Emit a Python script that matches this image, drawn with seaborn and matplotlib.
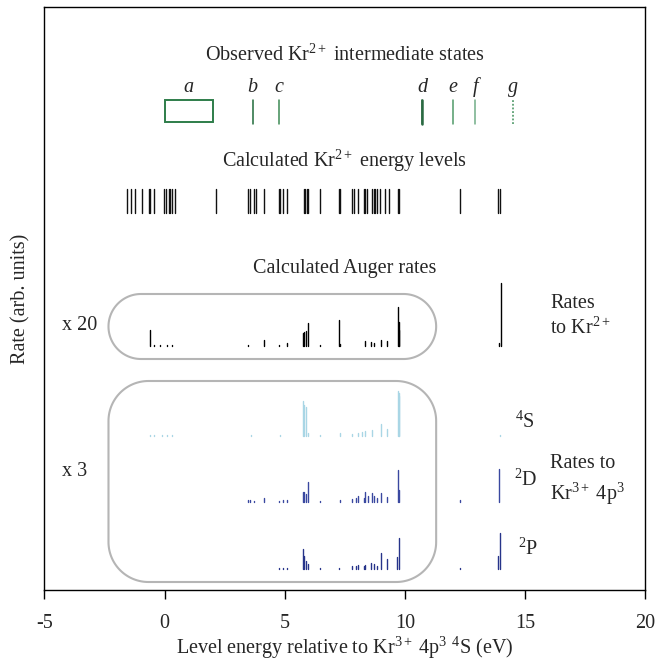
import numpy as np
import pandas as pd
import matplotlib
matplotlib.use("Agg")
import matplotlib.pyplot as plt
from matplotlib.patches import Polygon, Rectangle
import seaborn as sns

# ---------------- data ----------------
# observed Kr2+ intermediate states (eV)
obs_labels = ["b", "c", "d", "e", "f", "g"]
obs_energy = [3.67, 4.76, 10.72, 12.0, 12.93, 14.48]
obs_box_a = [0.0, 2.0]   # state a spans this energy range

# calculated Kr2+ energy levels (eV)
levels = [-1.56, -1.38, -1.21, -0.94, -0.66, -0.59, -0.45, -0.04, 0.06, 0.17,
          0.24, 0.31, 0.45, 2.15, 3.47, 3.57, 3.71, 3.82, 4.12, 4.75, 4.82,
          4.93, 5.10, 5.79, 5.86, 5.93, 5.99, 6.48, 7.24, 7.28, 7.80, 7.87,
          8.05, 8.28, 8.35, 8.42, 8.63, 8.70, 8.77, 8.84, 8.98, 9.18, 9.32,
          9.71, 9.74, 12.28, 13.87, 13.94]

# Auger rates to Kr2+ (x20, arb. units)
kr2_E = [-0.62, -0.45, -0.2, 0.1, 0.3, 3.47, 4.12, 4.75, 5.10, 5.75, 5.82,
         5.88, 5.95, 6.48, 7.24, 7.30, 8.35, 8.59, 8.70, 9.02, 9.25, 9.70,
         9.74, 9.77, 13.90, 13.98]
kr2_R = [16, 1, 1, 1, 1, 1, 6, 1, 3, 13, 14, 15, 23, 1, 26, 2, 5, 4, 3, 6, 5,
         39, 24, 16, 3, 63]

# Auger rates to Kr3+ 4p3 4S (x3)
s4_E = [-0.62, -0.45, -0.1, 0.1, 0.3, 3.6, 4.8, 5.75, 5.82, 5.88, 5.95, 6.48,
        7.28, 7.80, 8.05, 8.20, 8.35, 8.63, 9.02, 9.25, 9.70, 9.74, 9.77, 13.95]
s4_R = [1, 1, 1, 1, 1, 1, 1, 35, 31, 29, 3, 1, 3, 2, 3, 4, 5, 6, 12, 7, 45,
        43, 40, 1]

# Auger rates to Kr3+ 4p3 2D (x3)
d2_E = [3.47, 3.57, 3.71, 4.12, 4.75, 4.93, 5.10, 5.75, 5.82, 5.88, 5.95,
        6.48, 7.28, 7.80, 7.95, 8.05, 8.28, 8.35, 8.45, 8.63, 8.70, 8.84,
        9.02, 9.25, 9.70, 9.74, 12.28, 13.90]
d2_R = [2, 2, 1, 4, 1, 2, 2, 10, 10, 8, 20, 1, 2, 3, 4, 6, 4, 10, 6, 9, 6, 4,
        9, 5, 32, 12, 2, 33]

# Auger rates to Kr3+ 4p3 2P (x3)
p2_E = [4.75, 4.93, 5.10, 5.75, 5.82, 5.88, 5.95, 6.48, 7.24, 7.80, 7.95,
        8.05, 8.28, 8.35, 8.59, 8.70, 8.84, 9.02, 9.25, 9.69, 9.74, 12.28,
        13.87, 13.94]
p2_R = [1, 1, 1, 20, 13, 8, 5, 1, 1, 3, 3, 4, 3, 4, 6, 5, 3, 16, 10, 12, 31,
        1, 13, 36]

x_ticks = [-5, 0, 5, 10, 15, 20]

# ---------------- layout (vertical placement, arb. units) ----------------
Y_MAX = 583
BASE = {"kr2": 244, "4S": 154, "2D": 88, "2P": 21}
COLORS = {"kr2": "#000000", "4S": "#a9d6e5", "2D": "#3a48a0", "2P": "#27348a"}

sns.set_theme(style="white")
plt.rcParams["font.family"] = ["Liberation Serif", "DejaVu Serif"]
plt.rcParams["mathtext.fontset"] = "custom"
plt.rcParams["mathtext.rm"] = "Liberation Serif"
plt.rcParams["mathtext.it"] = "Liberation Serif:italic"
FS = 14.5

fig = plt.figure(figsize=(6.63, 6.64), dpi=100)
ax = fig.add_axes([44.3 / 663, 1 - 590 / 664, (645.3 - 44.3) / 663, (590 - 7) / 664])
PX_PER_EV = 601 / 25


def stems(energies, heights, base, name):
    rows = []
    for i, (e, h) in enumerate(zip(energies, heights)):
        rows.append({"E": e, "y": base, "uid": f"{name}{i}", "series": name})
        rows.append({"E": e, "y": base + h, "uid": f"{name}{i}", "series": name})
    return rows


rows = []
rows += stems(kr2_E, kr2_R, BASE["kr2"], "kr2")
rows += stems(s4_E, s4_R, BASE["4S"], "4S")
rows += stems(d2_E, d2_R, BASE["2D"], "2D")
rows += stems(p2_E, p2_R, BASE["2P"], "2P")
df_rates = pd.DataFrame(rows)
sns.lineplot(data=df_rates, x="E", y="y", units="uid", hue="series",
             palette=COLORS, estimator=None, sort=False, legend=False,
             lw=1.0, ax=ax)

# energy levels
lev_rows = []
for i, e in enumerate(levels):
    lev_rows.append({"E": e, "y": 377, "uid": i})
    lev_rows.append({"E": e, "y": 401, "uid": i})
sns.lineplot(data=pd.DataFrame(lev_rows), x="E", y="y", units="uid",
             estimator=None, sort=False, color="#111111", lw=1.0, ax=ax)

# observed states
obs_colors = {"b": "#1f6b3a", "c": "#3d8a55", "d": "#2a6a42", "e": "#4f9a68",
              "f": "#72ae87", "g": "#3f8f5a"}
obs_rows = []
for lab, e in zip(obs_labels, obs_energy):
    kind = "dotted" if lab == "g" else "solid"
    obs_rows.append({"E": e, "y": 466, "lab": lab, "kind": kind})
    obs_rows.append({"E": e, "y": 490, "lab": lab, "kind": kind})
df_obs = pd.DataFrame(obs_rows)
sns.lineplot(data=df_obs, x="E", y="y", units="lab", hue="lab",
             style="kind", dashes={"solid": "", "dotted": (1.2, 1.2)},
             palette=obs_colors, estimator=None, sort=False, legend=False,
             lw=1.1, ax=ax)
# state d drawn slightly heavier
sns.lineplot(data=df_obs[df_obs["lab"] == "d"], x="E", y="y", estimator=None,
             sort=False, color=obs_colors["d"], lw=1.8, ax=ax)
ax.add_patch(Rectangle((obs_box_a[0], 468), obs_box_a[1] - obs_box_a[0], 22,
                       fill=False, ec="#2e7d4a", lw=1.4))
for lab, e in zip(["a"] + obs_labels, [np.mean(obs_box_a)] + obs_energy):
    ax.text(e, 498, lab, ha="center", va="baseline", fontsize=FS, style="italic")


# rounded boxes (circular corners, radius given in pixels)
def rounded_box(x0, x1, y0, y1, r_px):
    rx = r_px / PX_PER_EV
    ry = r_px
    pts = []
    corners = [(x1 - rx, y0 + ry, -90, 0), (x1 - rx, y1 - ry, 0, 90),
               (x0 + rx, y1 - ry, 90, 180), (x0 + rx, y0 + ry, 180, 270)]
    for cx, cy, a0, a1 in corners:
        t = np.radians(np.linspace(a0, a1, 40))
        pts += list(zip(cx + rx * np.cos(t), cy + ry * np.sin(t)))
    return Polygon(pts, closed=True, fill=False, ec="#b5b5b5", lw=1.5)


ax.add_patch(rounded_box(-2.33, 11.30, 231, 296, 32.5))
ax.add_patch(rounded_box(-2.33, 11.30, 8, 209, 40))

# titles / annotations
ax.text(7.5, 529, "Observed Kr$^{2+}$ intermediate states", ha="center",
        va="baseline", fontsize=FS)
ax.text(7.5, 423, "Calculated Kr$^{2+}$ energy levels", ha="center",
        va="baseline", fontsize=FS)
ax.text(7.5, 317, "Calculated Auger rates", ha="center", va="baseline",
        fontsize=FS)
ax.text(-4.26, 264, "x 20", ha="left", va="center", fontsize=FS)
ax.text(-4.26, 118, "x 3", ha="left", va="center", fontsize=FS)
ax.text(16.04, 282, "Rates", ha="left", va="baseline", fontsize=FS)
ax.text(16.04, 256, "to Kr$^{2+}$", ha="left", va="baseline", fontsize=FS)
ax.text(16.04, 122, "Rates to", ha="left", va="baseline", fontsize=FS)
ax.text(16.04, 90, "Kr$^{3+}$ 4p$^{3}$", ha="left", va="baseline", fontsize=FS)
ax.text(14.6, 162, "$^{4}$S", ha="left", va="baseline", fontsize=FS)
ax.text(14.55, 104, "$^{2}$D", ha="left", va="baseline", fontsize=FS)
ax.text(14.72, 35, "$^{2}$P", ha="left", va="baseline", fontsize=FS)

# axes styling
ax.set_xlim(-5, 20)
ax.set_ylim(0, Y_MAX)
ax.set_xticks(x_ticks)
ax.set_xticklabels([str(t) for t in x_ticks])
ax.set_yticks([])
ax.tick_params(axis="x", direction="out", length=6.5, width=1.0,
               color="black", labelsize=FS, pad=11, bottom=True)
for sp in ax.spines.values():
    sp.set_visible(True)
    sp.set_color("black")
    sp.set_linewidth(1.0)
ax.set_xlabel("Level energy relative to Kr$^{3+}$ 4p$^{3}$ $^{4}$S (eV)",
              fontsize=FS, labelpad=1)
ax.set_ylabel("Rate (arb. units)", fontsize=FS, labelpad=10)
ax.grid(False)

fig.savefig("out.png", dpi=100)
